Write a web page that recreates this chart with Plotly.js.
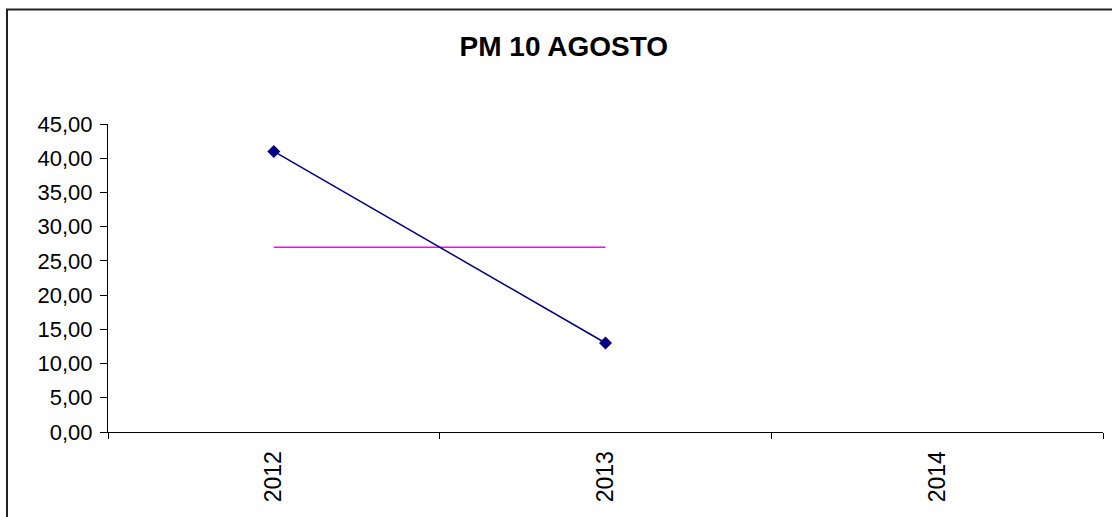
<!DOCTYPE html>
<html>
<head>
<meta charset="utf-8">
<script src="https://cdn.plot.ly/plotly-3.0.1.min.js"></script>
<style>html,body{margin:0;padding:0;background:#fff;}#chart{width:1112px;height:517px;}</style>
</head>
<body>
<div id="chart"></div>
<script>
const years = ['2012', '2013', '2014'];
const pm10 = [41.0, 13.0, null];
const limite = [27.0, 27.0, null];
const titleText = 'PM 10 AGOSTO';
const yTicks = [0, 5, 10, 15, 20, 25, 30, 35, 40, 45];

const traces = [
  {
    x: years, y: limite, type: 'scatter', mode: 'lines',
    line: {color: '#FF00FF', width: 1.5}, hoverinfo: 'skip', showlegend: false
  },
  {
    x: years, y: pm10, type: 'scatter', mode: 'lines+markers',
    line: {color: '#000080', width: 1.5},
    marker: {symbol: 'diamond', size: 10, color: '#000080'},
    showlegend: false
  }
];

const layout = {
  width: 1112, height: 517,
  margin: {l: 108, r: 9, t: 124, b: 85},
  paper_bgcolor: '#ffffff', plot_bgcolor: '#ffffff',
  separators: ',.',
  font: {family: 'Liberation Sans, Arial, sans-serif', color: '#000'},
  title: {
    text: '<b>' + titleText + '</b>',
    font: {size: 28, color: '#000', family: 'Liberation Sans, Arial, sans-serif'},
    xref: 'container', x: 0.507, xanchor: 'center',
    yref: 'container', y: 0.91, yanchor: 'middle'
  },
  xaxis: {
    type: 'category', categoryorder: 'array', categoryarray: years,
    range: [-0.5, 2.5], tickson: 'boundaries',
    ticks: 'outside', ticklen: 6, tickcolor: '#000', tickwidth: 1,
    showline: true, linecolor: '#000', linewidth: 1,
    showgrid: false, zeroline: false,
    tickangle: -90, ticklabelstandoff: 9,
    tickfont: {size: 23, color: '#000'}
  },
  yaxis: {
    range: [0, 45], tickvals: yTicks, tickformat: '.2f',
    ticks: 'outside', ticklen: 7, tickcolor: '#000', tickwidth: 1,
    showline: true, linecolor: '#000', linewidth: 1,
    showgrid: false, zeroline: false,
    ticklabelstandoff: 3,
    tickfont: {size: 22, color: '#000'}
  },
  shapes: [
    {type: 'rect', xref: 'paper', yref: 'paper',
     x0: -0.1015, x1: 1.5, y0: -0.8, y1: 1.3718,
     line: {color: '#222', width: 2}, fillcolor: 'rgba(0,0,0,0)', layer: 'below'}
  ]
};

Plotly.newPlot('chart', traces, layout, {displayModeBar: false, staticPlot: true});
</script>
</body>
</html>
